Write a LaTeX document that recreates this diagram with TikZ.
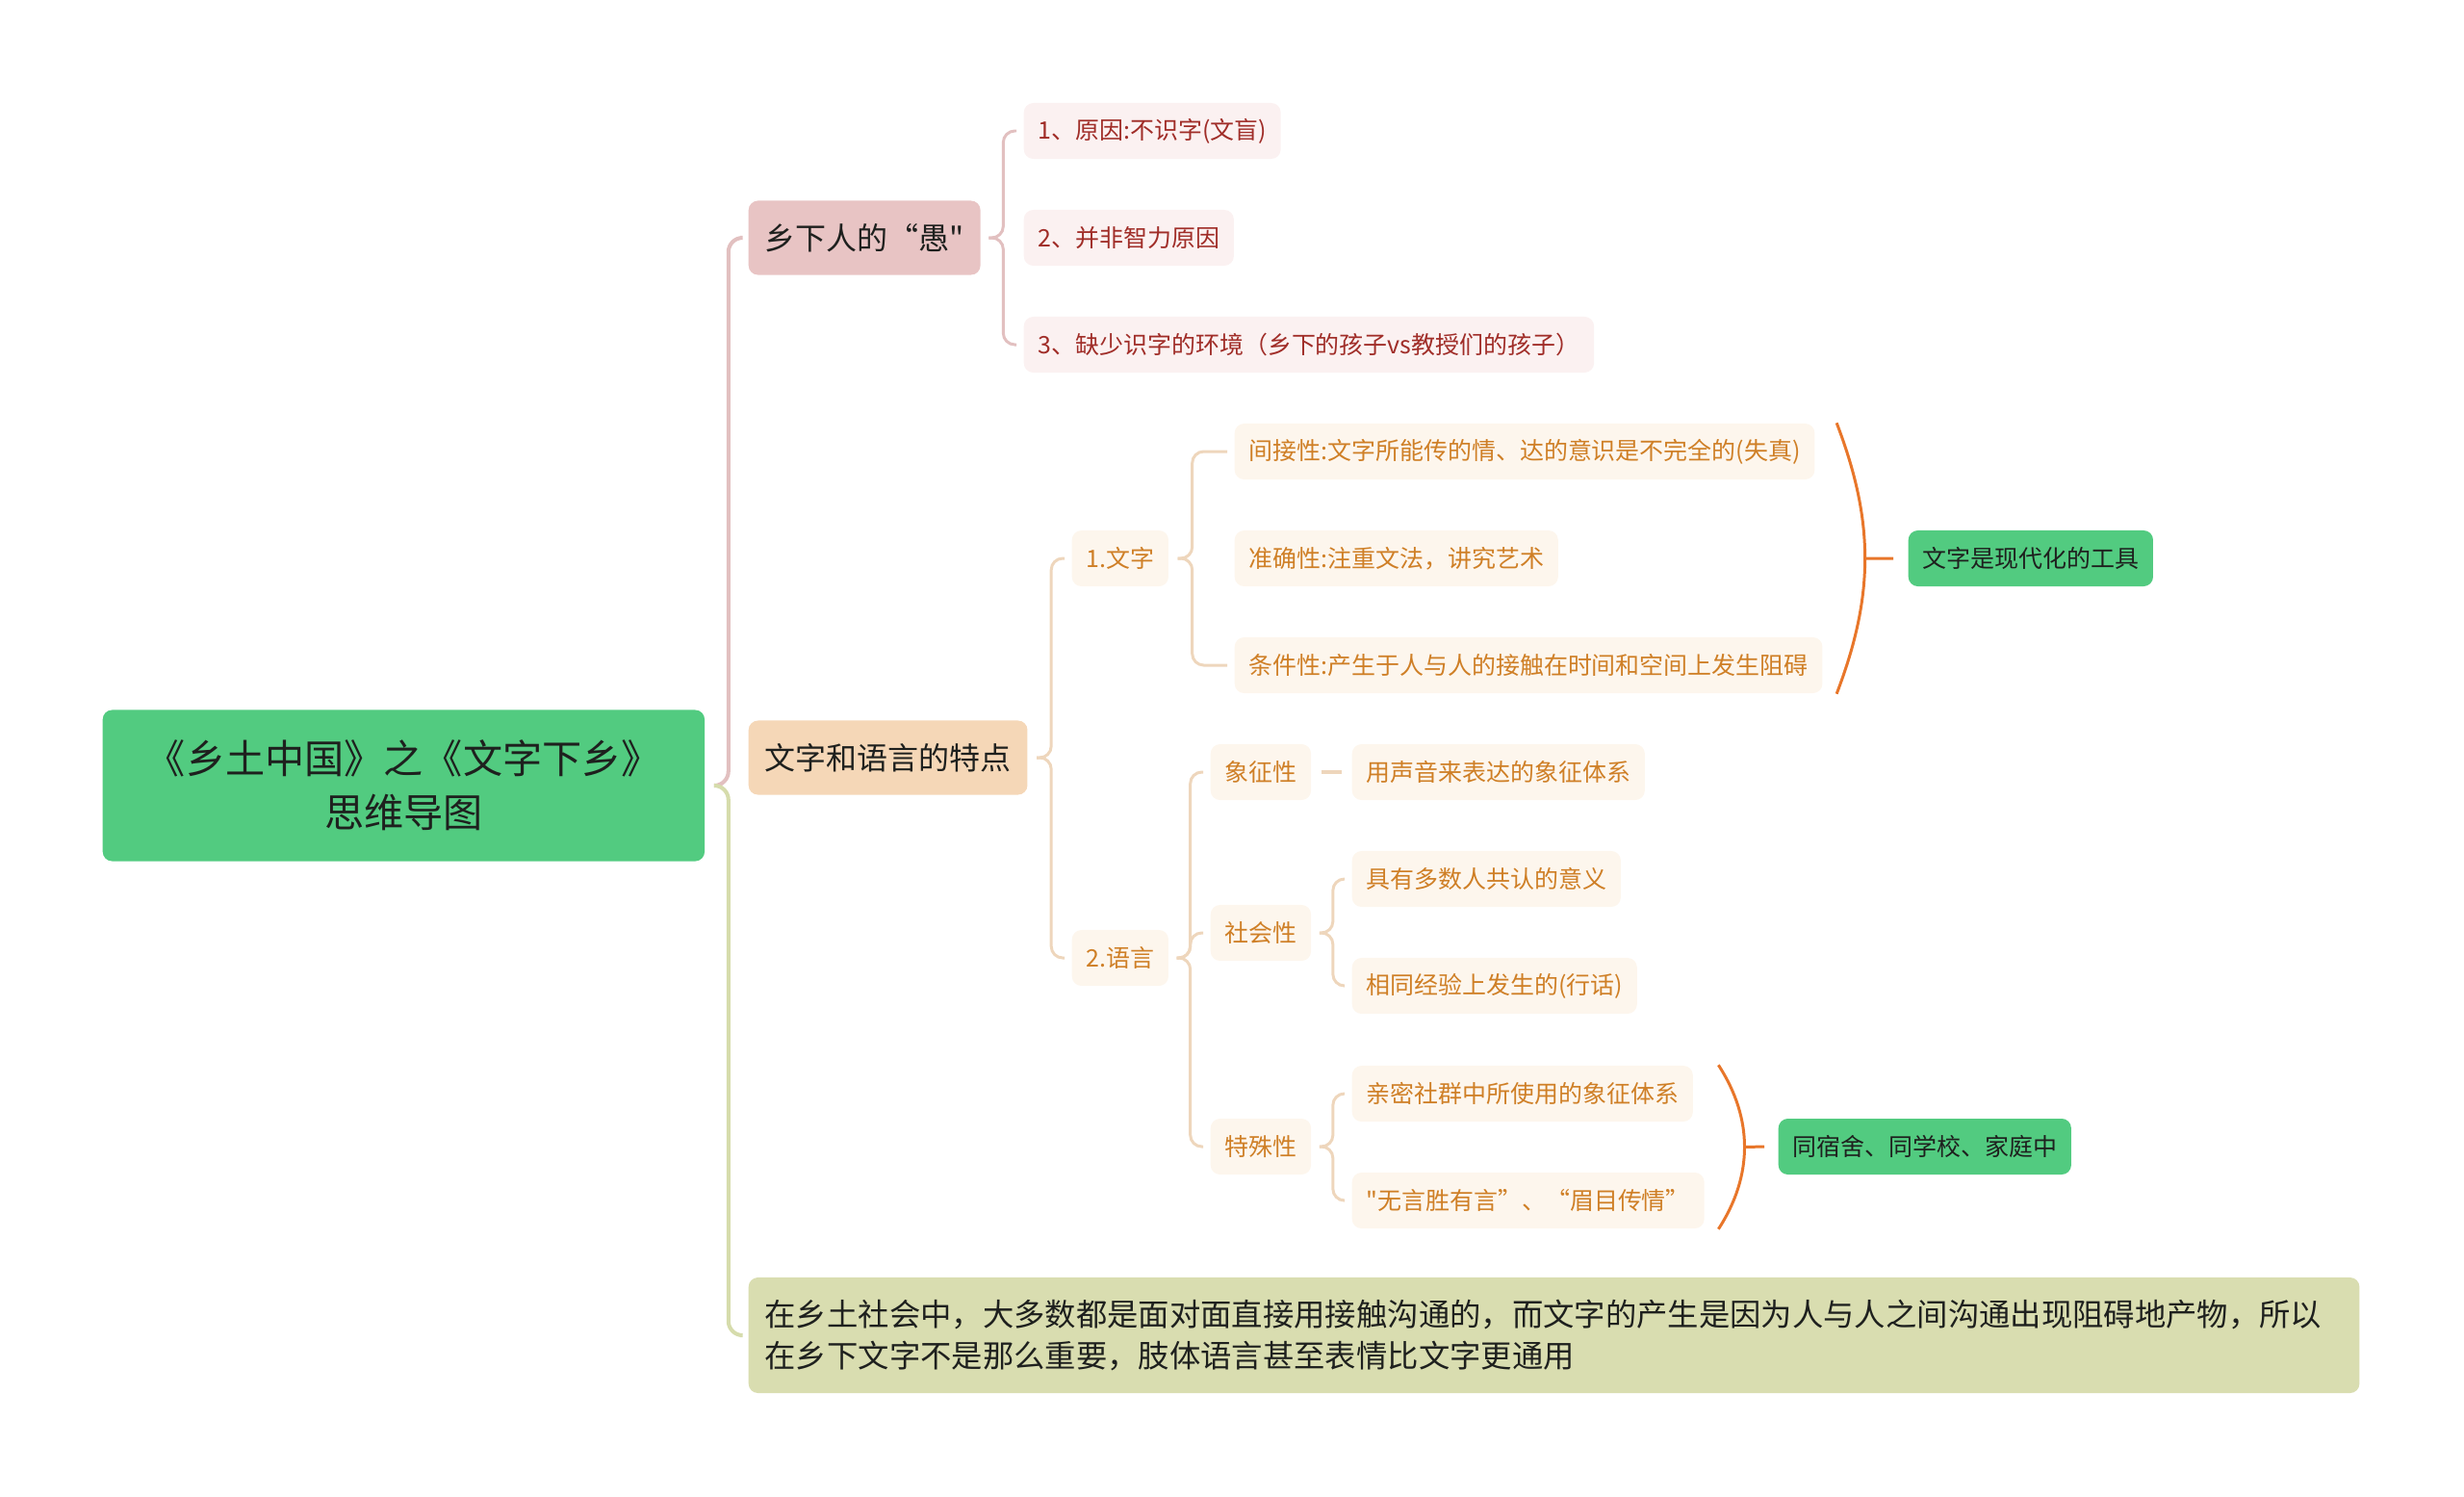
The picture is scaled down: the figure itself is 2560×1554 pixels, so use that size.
\documentclass[tikz,border=0pt]{standalone}
\usepackage{fontspec}
\setmainfont{Noto Sans CJK SC}[Ligatures=TeXOff]
\usepackage{tikz}
\usetikzlibrary{calc}
\definecolor{GreenRoot}{RGB}{82,203,128}
\definecolor{InkDark}{RGB}{30,32,30}
\definecolor{PinkMain}{RGB}{232,196,196}
\definecolor{PinkLine}{RGB}{226,192,192}
\definecolor{PinkLeaf}{RGB}{251,241,241}
\definecolor{RedText}{RGB}{160,45,40}
\definecolor{PeachMain}{RGB}{245,215,183}
\definecolor{PeachLine}{RGB}{238,214,188}
\definecolor{PeachLeaf}{RGB}{253,246,237}
\definecolor{OrangeText}{RGB}{207,127,38}
\definecolor{OliveMain}{RGB}{217,221,176}
\definecolor{OliveLine}{RGB}{214,220,172}
\definecolor{OrangeBrace}{RGB}{232,118,42}

\begin{document}
\begin{tikzpicture}[x=0.01cm,y=-0.01cm,
  box/.style={rounded corners=2.8pt,anchor=west,inner ysep=0pt,text=InkDark},
  main/.style={box,inner xsep=4.8pt,minimum height=0.77cm,font=\fontsize{9.1pt}{11pt}\selectfont},
  leaf/.style={box,inner xsep=4.2pt,minimum height=0.58cm,font=\fontsize{7.1pt}{8.5pt}\selectfont},
  pinkleaf/.style={leaf,fill=PinkLeaf,text=RedText},
  peachleaf/.style={leaf,fill=PeachLeaf,text=OrangeText},
  sumbox/.style={leaf,fill=GreenRoot},
  link/.style={line width=1.15pt,rounded corners=4.2pt},
  sublink/.style={line width=0.85pt,rounded corners=3.4pt},
  brace/.style={line width=0.85pt,OrangeBrace}]
  \useasboundingbox (0,0) rectangle (2560,1554);

  \node[box,fill=GreenRoot,minimum width=6.25cm,minimum height=1.57cm,align=center,
        font=\fontsize{11.7pt}{15.8pt}\selectfont] (root) at (106,816)
       {《乡土中国》之《文字下乡》\\思维导图};

  \node[main,fill=PinkMain] (yu) at (777,247) {乡下人的“愚"};
  \node[main,fill=PeachMain] (tedian) at (777,787) {文字和语言的特点};
  \node[main,fill=OliveMain,text width=16.39cm,align=left,minimum height=1.2cm,
        font=\fontsize{9.2pt}{12.5pt}\selectfont] (shuoming) at (777,1387)
       {在乡土社会中，大多数都是面对面直接用接触沟通的，而文字的产生是因为人与人之间沟通出现阻碍地产物，所以\\在乡下文字不是那么重要，肢体语言甚至表情比文字更通用};

  \node[pinkleaf] (yuan1) at (1063,136) {1、原因:不识字(文盲)};
  \node[pinkleaf] (yuan2) at (1063,247) {2、并非智力原因};
  \node[pinkleaf] (yuan3) at (1063,358) {3、缺少识字的环境（乡下的孩子vs教授们的孩子）};

  \node[peachleaf] (wenzi) at (1113,580) {1.文字\hspace{7pt}};
  \node[peachleaf] (yuyan) at (1113,995) {2.语言};

  \node[peachleaf] (jianjie) at (1282,469) {间接性:文字所能传的情、达的意识是不完全的(失真)};
  \node[peachleaf] (zhunque) at (1282,580) {准确性:注重文法，讲究艺术};
  \node[peachleaf] (tiaojian) at (1282,691) {条件性:产生于人与人的接触在时间和空间上发生阻碍};
  \node[sumbox] (gongju) at (1982,580) {文字是现代化的工具};

  \node[peachleaf] (xiangzheng) at (1257,802) {象征性};
  \node[peachleaf] (shehui) at (1257,969) {社会性};
  \node[peachleaf] (teshu) at (1257,1191) {特殊性};

  \node[peachleaf] (xz1) at (1404,802) {用声音来表达的象征体系};
  \node[peachleaf] (sh1) at (1404,913) {具有多数人共认的意义};
  \node[peachleaf] (sh2) at (1404,1024) {相同经验上发生的(行话)};
  \node[peachleaf] (ts1) at (1404,1136) {亲密社群中所使用的象征体系};
  \node[peachleaf] (ts2) at (1404,1247) {"无言胜有言”、“眉目传情”};
  \node[sumbox] (tongxue) at (1847,1191) {同宿舍、同学校、家庭中};

  \draw[link,PinkLine] ($(root.east)+(10,0)$) -- ++(14,0) |- ($(yu.west)+(-8,0)$);
  \draw[link,OliveLine] ($(root.east)+(10,0)$) -- ++(14,0) |- ($(shuoming.west)+(-8,0)$);

  \draw[sublink,PinkLine] ($(yu.east)+(8,0)$) -- ++(15,0) |- ($(yuan1.west)+(-7,0)$);
  \draw[sublink,PinkLine] ($(yu.east)+(8,0)$) -- ++(15,0) |- ($(yuan3.west)+(-7,0)$);

  \draw[sublink,PeachLine] ($(tedian.east)+(9,0)$) -- ++(15,0) |- ($(wenzi.west)+(-7,0)$);
  \draw[sublink,PeachLine] ($(tedian.east)+(9,0)$) -- ++(15,0) |- ($(yuyan.west)+(-7,0)$);

  \draw[sublink,PeachLine] ($(wenzi.east)+(9,0)$) -- ++(15,0) |- ($(jianjie.west)+(-7,0)$);
  \draw[sublink,PeachLine] ($(wenzi.east)+(9,0)$) -- ++(15,0) |- ($(tiaojian.west)+(-7,0)$);

  \draw[sublink,PeachLine] ($(yuyan.east)+(8,0)$) -- ++(14,0) |- ($(xiangzheng.west)+(-7,0)$);
  \draw[sublink,PeachLine] ($(yuyan.east)+(8,0)$) -- ++(14,0) |- ($(shehui.west)+(-7,0)$);
  \draw[sublink,PeachLine] ($(yuyan.east)+(8,0)$) -- ++(14,0) |- ($(teshu.west)+(-7,0)$);

  \draw[sublink,PeachLine,line width=1.1pt] ($(xiangzheng.east)+(10,0)$) -- ($(xz1.west)+(-10,0)$);
  \draw[sublink,PeachLine] ($(shehui.east)+(8,0)$) -- ++(14,0) |- ($(sh1.west)+(-7,0)$);
  \draw[sublink,PeachLine] ($(shehui.east)+(8,0)$) -- ++(14,0) |- ($(sh2.west)+(-7,0)$);
  \draw[sublink,PeachLine] ($(teshu.east)+(8,0)$) -- ++(14,0) |- ($(ts1.west)+(-7,0)$);
  \draw[sublink,PeachLine] ($(teshu.east)+(8,0)$) -- ++(14,0) |- ($(ts2.west)+(-7,0)$);

  \draw[brace] ($(tiaojian.east|-jianjie.north)+(14,0)$) to[bend left=21]
       node[coordinate,pos=.5] (bm1) {} ($(tiaojian.south east)+(14,0)$);
  \draw[brace] (bm1) -- ($(gongju.west)+(-15,0)$);
  \draw[brace] ($(ts2.east|-ts1.north)+(14,0)$) to[bend left=33]
       node[coordinate,pos=.5] (bm2) {} ($(ts2.south east)+(14,0)$);
  \draw[brace] (bm2) -- ($(tongxue.west)+(-14,0)$);
\end{tikzpicture}
\end{document}
